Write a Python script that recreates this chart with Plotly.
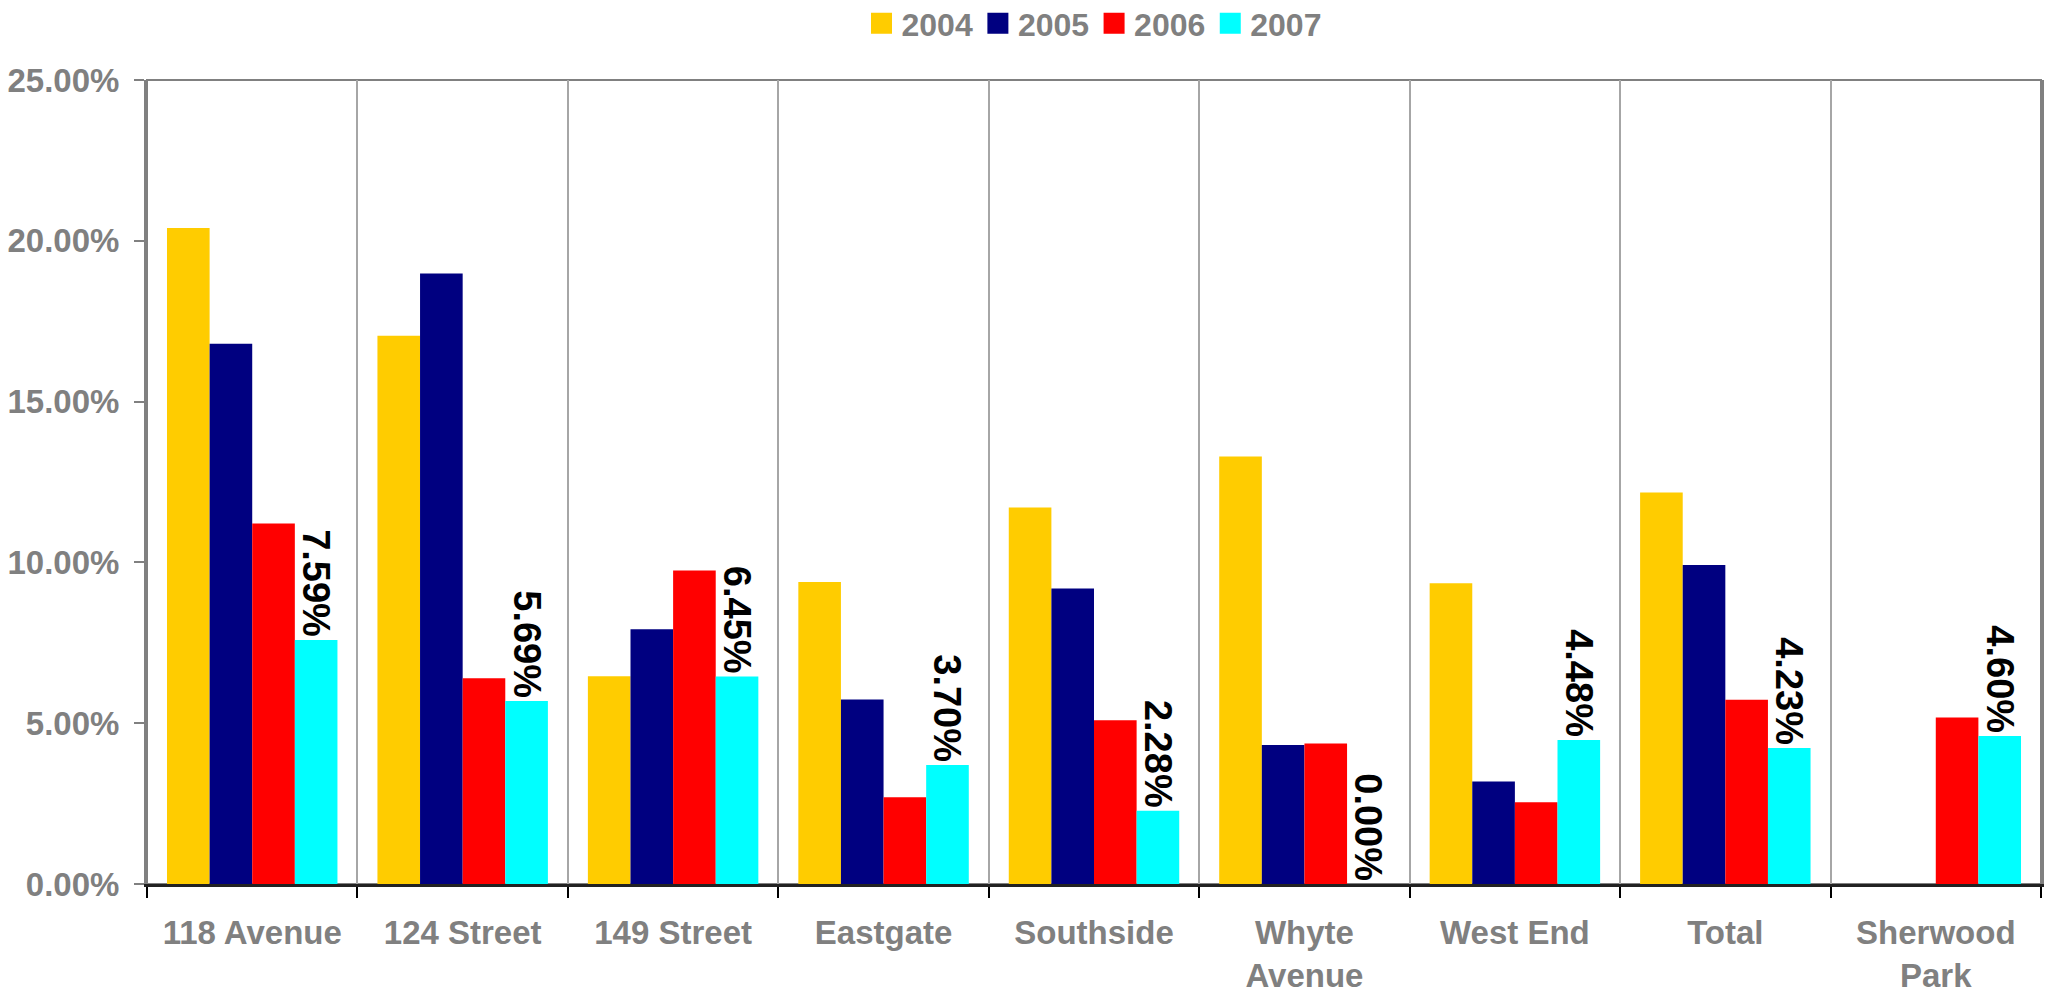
import plotly.graph_objects as go

categories = ["118 Avenue", "124 Street", "149 Street", "Eastgate", "Southside",
              "Whyte<br>Avenue", "West End", "Total", "Sherwood<br>Park"]
years = ["2004", "2005", "2006", "2007"]
v2004 = [20.40, 17.05, 6.46, 9.39, 11.71, 13.29, 9.35, 12.17, None]
v2005 = [16.80, 18.98, 7.92, 5.74, 9.19, 4.32, 3.19, 9.92, None]
v2006 = [11.21, 6.40, 9.75, 2.70, 5.09, 4.37, 2.54, 5.73, 5.18]
v2007 = [7.59, 5.69, 6.45, 3.70, 2.28, 0.00, 4.48, 4.23, 4.60]
colors = ["#FFCC00", "#000080", "#FF0000", "#00FFFF"]
series = [v2004, v2005, v2006, v2007]

FONT = "Liberation Sans, Arial, sans-serif"
GRAY = "#808080"

fig = go.Figure()
for name, vals, col in zip(years, series, colors):
    show_text = name == "2007"
    fig.add_trace(go.Bar(
        x=categories, y=vals, name=name, marker=dict(color=col, line=dict(width=0)),
        showlegend=False,
        text=[f"{v:.2f}%" for v in vals] if show_text else None,
        textposition="outside" if show_text else "none",
        textangle=90,
        constraintext="none",
        cliponaxis=False,
        textfont=dict(family=FONT, size=38, color="#000000", weight="bold"),
    ))
# legend entries with larger square swatches
for name, col in zip(years, colors):
    fig.add_trace(go.Scatter(
        x=[None], y=[None], mode="markers", name=name,
        marker=dict(symbol="square", size=16, color=col, line=dict(color=col, width=5)),
    ))

fig.update_layout(
    width=2049, height=996,
    margin=dict(l=147, r=8, t=80, b=112, autoexpand=False),
    plot_bgcolor="white", paper_bgcolor="white",
    barmode="group", bargap=0.19, bargroupgap=0,
    font=dict(family=FONT, color=GRAY, size=33, weight="bold"),
    legend=dict(orientation="h", x=0.5, xanchor="center", y=1.0703, yanchor="middle",
                font=dict(family=FONT, size=32, color=GRAY, weight="bold"),
                bgcolor="rgba(0,0,0,0)"),
    shapes=[dict(type="rect", xref="paper", yref="paper", x0=0, x1=1, y0=0, y1=1,
                 line=dict(color=GRAY, width=2), layer="below")],
)
fig.update_xaxes(
    type="category", tickson="boundaries", showgrid=True, gridcolor="#A6A6A6", gridwidth=1.5,
    ticks="outside", ticklen=11, tickcolor="#000000", tickwidth=1.5,
    showline=True, linecolor="#222222", linewidth=2.5,
    ticklabelstandoff=18,
    tickfont=dict(family=FONT, size=33, color=GRAY, weight="bold"),
)
fig.update_yaxes(
    range=[0, 25], dtick=5, tickformat=".2f", ticksuffix="%",
    showgrid=False, zeroline=False,
    ticks="outside", ticklen=10, tickcolor=GRAY, tickwidth=2,
    showline=True, linecolor=GRAY, linewidth=3, mirror=True,
    ticklabelstandoff=8,
    tickfont=dict(family=FONT, size=33, color=GRAY, weight="bold"),
)

fig.write_html("out.html", config={"displayModeBar": False},
               post_script="document.body.style.margin='0';")
